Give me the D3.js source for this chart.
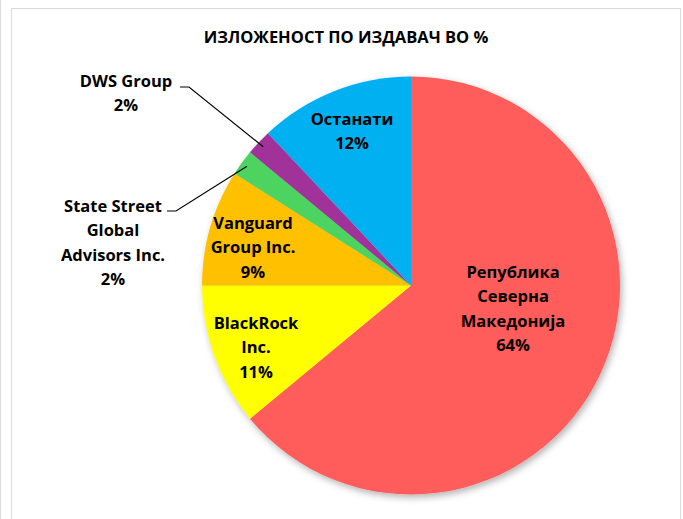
<!DOCTYPE html>
<html>
<head>
<meta charset="utf-8">
<script src="https://cdn.jsdelivr.net/npm/d3@7"></script>
<style>
  html, body { margin: 0; padding: 0; background: #fff; }
  svg { display: block; }
  text { font-family: "Open Sans", "Noto Sans", sans-serif; font-weight: 700; fill: #000; }
</style>
</head>
<body>
<svg id="chart" width="683" height="519"></svg>
<script>
// ---- data ----
const title = "ИЗЛОЖЕНОСТ ПО ИЗДАВАЧ ВО %";
const categories = ["Република Северна Македонија", "BlackRock Inc.", "Vanguard Group Inc.", "State Street Global Advisors Inc.", "DWS Group", "Останати"];
const values = [64, 11, 9, 2, 2, 12];
const labelLines = [
  ["Република", "Северна", "Македонија"],
  ["BlackRock", "Inc."],
  ["Vanguard", "Group Inc."],
  ["State Street", "Global", "Advisors Inc."],
  ["DWS Group"],
  ["Останати"]
];
const colors = ["#FF5B5B", "#FFFF00", "#FFC000", "#4DD35F", "#A0309A", "#00B0F0"];

// ---- layout ----
const W = 683, H = 519;
const cx = 411, cy = 285.5, R = 209;
const lineH = 24.5;
// label placement (centre of the first line) relative to pie centre; outside labels have leader lines
const labelLayout = [
  { dx: 102, dy: -14, inside: true },
  { dx: -155, dy: 37, inside: true },
  { dx: -158, dy: -63, inside: true },
  { dx: -298, dy: -80, inside: false, lineY: -74.5 },
  { dx: -285, dy: -205, inside: false, lineY: -198.5 },
  { dx: -59, dy: -167, inside: true }
];

const svg = d3.select("#chart");

// frame
svg.append("line").attr("x1", 0.5).attr("x2", 0.5).attr("y1", 0).attr("y2", H)
  .attr("stroke", "#d9d9d9").attr("stroke-width", 1);
svg.append("rect").attr("x", 11.5).attr("y", 8.5).attr("width", 669).attr("height", H)
  .attr("fill", "#fff").attr("stroke", "#d9d9d9").attr("stroke-width", 1);

// shadow filter
const defs = svg.append("defs");
const f = defs.append("filter").attr("id", "shadow")
  .attr("x", "-10%").attr("y", "-10%").attr("width", "120%").attr("height", "120%");
f.append("feDropShadow").attr("dx", 2).attr("dy", 3).attr("stdDeviation", 3.5)
  .attr("flood-color", "#000").attr("flood-opacity", 0.3);

// title
svg.append("text").attr("x", 346).attr("y", 43).attr("text-anchor", "middle")
  .style("font-size", "16.5px").text(title);

const data = categories.map((c, i) => ({ name: c, value: values[i], i }));
const pie = d3.pie().value(d => d.value).sort(null).startAngle(0).endAngle(2 * Math.PI);
const arc = d3.arc().innerRadius(0).outerRadius(R);
const arcs = pie(data);

const g = svg.append("g").attr("transform", `translate(${cx},${cy})`);
const slices = g.append("g").attr("filter", "url(#shadow)");
slices.selectAll("path").data(arcs).join("path")
  .attr("d", arc)
  .attr("fill", d => colors[d.data.i]);

// leader lines for outside labels
const edgeArc = d3.arc().innerRadius(R * 0.97).outerRadius(R * 0.97);
arcs.forEach(a => {
  const L = labelLayout[a.data.i];
  if (L.inside) return;
  const p = edgeArc.centroid(a);
  const startX = L.dx + 54;
  const elbowX = startX + 9;
  g.append("polyline")
    .attr("points", `${startX},${L.lineY} ${elbowX},${L.lineY} ${p[0]},${p[1]}`)
    .attr("fill", "none").attr("stroke", "#000").attr("stroke-width", 1.2);
});

// labels
arcs.forEach(a => {
  const i = a.data.i;
  const L = labelLayout[i];
  const lines = labelLines[i].concat([d3.format(".0f")(a.data.value) + "%"]);
  const t = g.append("text").attr("text-anchor", "middle").style("font-size", "16.5px");
  lines.forEach((ln, k) => {
    t.append("tspan").attr("x", L.dx).attr("y", L.dy + k * lineH + 6).text(ln);
  });
});
</script>
</body>
</html>
